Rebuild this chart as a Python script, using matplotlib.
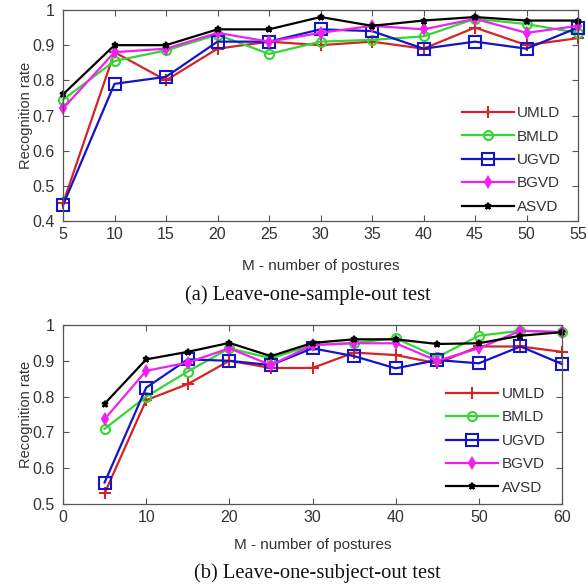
import matplotlib
matplotlib.use("Agg")
import matplotlib.pyplot as plt

# ---------------- data ----------------
x_a = [5, 10, 15, 20, 25, 30, 35, 40, 45, 50, 55]
umld_a = [0.45, 0.88, 0.80, 0.89, 0.91, 0.90, 0.91, 0.89, 0.95, 0.90, 0.92]
bmld_a = [0.745, 0.855, 0.885, 0.93, 0.875, 0.91, 0.915, 0.925, 0.975, 0.96, 0.935]
ugvd_a = [0.445, 0.79, 0.81, 0.91, 0.91, 0.945, 0.94, 0.89, 0.91, 0.89, 0.95]
bgvd_a = [0.72, 0.88, 0.89, 0.935, 0.91, 0.935, 0.955, 0.945, 0.975, 0.935, 0.955]
asvd_a = [0.76, 0.90, 0.90, 0.945, 0.945, 0.98, 0.955, 0.97, 0.98, 0.97, 0.97]

x_b = [5, 10, 15, 20, 25, 30, 35, 40, 45, 50, 55, 60]
umld_b = [0.53, 0.79, 0.835, 0.90, 0.88, 0.88, 0.923, 0.916, 0.893, 0.94, 0.94, 0.925]
bmld_b = [0.71, 0.80, 0.87, 0.935, 0.907, 0.944, 0.95, 0.963, 0.91, 0.97, 0.984, 0.98]
ugvd_b = [0.56, 0.825, 0.904, 0.90, 0.888, 0.935, 0.913, 0.879, 0.902, 0.893, 0.94, 0.891]
bgvd_b = [0.737, 0.872, 0.895, 0.935, 0.888, 0.944, 0.949, 0.949, 0.90, 0.935, 0.984, 0.98]
avsd_b = [0.78, 0.904, 0.925, 0.95, 0.913, 0.95, 0.96, 0.96, 0.947, 0.949, 0.97, 0.98]

labels_a = ["UMLD", "BMLD", "UGVD", "BGVD", "ASVD"]
labels_b = ["UMLD", "BMLD", "UGVD", "BGVD", "AVSD"]
xticks_a = [5, 10, 15, 20, 25, 30, 35, 40, 45, 50, 55]
xticks_b = [0, 10, 20, 30, 40, 50, 60]
yticks_a = [0.4, 0.5, 0.6, 0.7, 0.8, 0.9, 1.0]
yticks_b = [0.5, 0.6, 0.7, 0.8, 0.9, 1.0]
ytick_labels_a = ["0.4", "0.5", "0.6", "0.7", "0.8", "0.9", "1"]
ytick_labels_b = ["0.5", "0.6", "0.7", "0.8", "0.9", "1"]
xlabel = "M - number of postures"
ylabel = "Recognition rate"
title_a = "(a) Leave-one-sample-out test"
title_b = "(b) Leave-one-subject-out test"

# ---------------- style ----------------
plt.rcParams['font.family'] = ['Liberation Sans', 'DejaVu Sans']
W = H = 586
fig = plt.figure(figsize=(W / 100, H / 100), dpi=100)
fig.patch.set_facecolor('white')

colors = ['#d42424', '#33d633', '#1414c8', '#f020f0', '#000000']
markers = ['+', 'o', 's', 'd', '*']
msizes = [8, 6.5, 8.5, 5.5, 5]
mfc = ['#d42424', 'none', 'none', '#f020f0', '#000000']
txt_col = '#333333'
spine_col = '#555555'


def px_axes(l, r, t, b):
    return fig.add_axes([l / W, 1 - b / H, (r - l) / W, (b - t) / H])


def style(ax, xticks, yticks, yticklabels, xlim, ylim):
    ax.set_xlim(*xlim)
    ax.set_ylim(*ylim)
    ax.set_xticks(xticks)
    ax.set_yticks(yticks)
    ax.set_yticklabels(yticklabels)
    ax.tick_params(direction='in', top=True, right=True, length=4,
                   width=0.8, colors=spine_col, labelcolor=txt_col,
                   labelsize=11.5, pad=4)
    ax.tick_params(axis='y', pad=6)
    for s in ax.spines.values():
        s.set_color(spine_col)
        s.set_linewidth(0.9)
    ax.set_xlabel(xlabel, fontsize=11, color=txt_col)
    ax.set_ylabel(ylabel, fontsize=10.5, color=txt_col)


def draw(ax, x, series, labels, leg_anchor):
    for ys, lab, c, m, ms, fc in zip(series, labels, colors, markers, msizes, mfc):
        ax.plot(x, ys, color=c, marker=m, markersize=ms, markerfacecolor=fc,
                markeredgecolor=c, markeredgewidth=1.5, linewidth=1.6,
                label=lab, clip_on=False)
    ax.legend(loc='lower right', bbox_to_anchor=leg_anchor, frameon=False,
              fontsize=11, handlelength=3.4, handletextpad=0.2,
              labelspacing=0.62, labelcolor=txt_col, borderaxespad=0.2)


# ---- top ----
ax1 = px_axes(63, 578, 10, 221)
draw(ax1, x_a, [umld_a, bmld_a, ugvd_a, bgvd_a, asvd_a], labels_a, (0.985, -0.01))
style(ax1, xticks_a, yticks_a, ytick_labels_a, (5, 55), (0.4, 1.0))
ax1.xaxis.set_label_coords(0.5, -(266 - 221) / 211)
ax1.xaxis.label.set_va('center')
ax1.yaxis.set_label_coords((26 - 63) / 515, 0.5)
ax1.yaxis.label.set_va('center')

# ---- bottom ----
ax2 = px_axes(63, 562, 325, 504)
draw(ax2, x_b, [umld_b, bmld_b, ugvd_b, bgvd_b, avsd_b], labels_b, (0.985, 0.0))
style(ax2, xticks_b, yticks_b, ytick_labels_b, (0, 60), (0.5, 1.0))
ax2.xaxis.set_label_coords(0.5, -(545 - 504) / 179)
ax2.xaxis.label.set_va('center')
ax2.yaxis.set_label_coords((26 - 63) / 499, 0.5)
ax2.yaxis.label.set_va('center')

# ---- captions ----
fig.text(308 / W, 1 - 295 / H, title_a, family=['Liberation Serif', 'DejaVu Serif'],
         fontsize=14.8, ha='center', va='center', color='#111111')
fig.text(317 / W, 1 - 573 / H, title_b, family=['Liberation Serif', 'DejaVu Serif'],
         fontsize=14.8, ha='center', va='center', color='#111111')

fig.savefig('out.png', dpi=100, facecolor='white')
